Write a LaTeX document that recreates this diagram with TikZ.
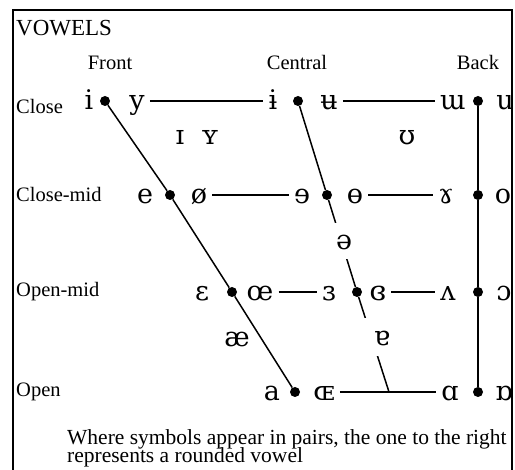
\documentclass[tikz,border=0pt]{standalone}
\usepackage{fontspec}
\setmainfont{Liberation Serif}
\newfontfamily\ipafont{DejaVu Serif}
\usetikzlibrary{positioning}

\begin{document}
\begin{tikzpicture}[
    x=1pt, y=-1pt,
    every node/.style={inner sep=0pt},
    ipa/.style={font=\ipafont\fontsize{27}{27}\selectfont, text height=19pt, text depth=1pt, inner xsep=5pt},
    gap/.style={ipa, fill=white, minimum height=36pt},
    dot/.style={circle, fill, minimum size=10pt},
    head/.style={font=\fontsize{20.5}{22}\selectfont, anchor=base},
    side/.style={font=\fontsize{20.5}{22}\selectfont, anchor=base west},
    note/.style={font=\fontsize{21.5}{15}\selectfont, align=left, anchor=base west},
    line/.style={line width=1.6pt},
    slant/.style={line width=1.5pt}
]

\useasboundingbox (0,0) rectangle (515,470);
\draw[line width=2pt] (13,470) -- (13,10) -- (512,10) -- (512,470);

% Headings
\node[side, font=\fontsize{23}{24}\selectfont] (title) at (16,36) {VOWELS};
\node[head] (front) at (110,70) {Front};
\node[head] (central) at (297,70) {Central};
\node[head] (back) at (478,70) {Back};
\node[side] (close) at (16,114) {Close};
\node[side] (closemid) at (16,202) {Close-mid};
\node[side] (openmid) at (16,297) {Open-mid};
\node[side] (open) at (16,397) {Open};

% Dots
\node[dot] (fC) at (105,101) {};
\node[dot] (fCM) at (170,195) {};
\node[dot] (fOM) at (232,292) {};
\node[dot] (fO) at (295,392) {};
\node[dot] (cC) at (298,101) {};
\node[dot] (cCM) at (327,195) {};
\node[dot] (cOM) at (357,292) {};
\coordinate (cO) at (389,392);
\node[dot] (bC) at (478,101) {};
\node[dot] (bCM) at (478,195) {};
\node[dot] (bOM) at (478,292) {};
\node[dot] (bO) at (478,392) {};

% Symbols
\node[ipa] (i) at (89,101) {i};
\node[ipa] (y) at (137,101) {y};
\node[ipa] (ibar) at (273,101) {ɨ};
\node[ipa] (ubar) at (329,101) {ʉ};
\node[ipa] (mturn) at (453,101) {ɯ};
\node[ipa] (u) at (505,101) {u};
\node[ipa] (e) at (145,195) {e};
\node[ipa] (oslash) at (199,195) {ø};
\node[ipa] (erev) at (302,195) {ɘ};
\node[ipa] (obar) at (355,195) {ɵ};
\node[ipa] (ram) at (446,195) {ɤ};
\node[ipa] (o) at (503,195) {o};
\node[ipa] (eps) at (202,292) {ɛ};
\node[ipa] (oe) at (260,292) {œ};
\node[ipa] (epsrev) at (329,292) {ɜ};
\node[ipa] (epsclosed) at (378,292) {ɞ};
\node[ipa] (vturn) at (448,292) {ʌ};
\node[ipa] (oopen) at (504,292) {ɔ};
\node[ipa] (a) at (272,392) {a};
\node[ipa] (OE) at (324,392) {ɶ};
\node[ipa] (alpha) at (450,392) {ɑ};
\node[ipa] (alphaturn) at (504,392) {ɒ};
\node[ipa] (Ismall) at (180,136) {ɪ};
\node[ipa] (Ysmall) at (210,136) {ʏ};
\node[ipa] (upsilon) at (407,136) {ʊ};
\node[ipa] (ae) at (237,338) {æ};

% Lines
\draw[slant] (fC) -- (fCM) -- (fOM) -- (fO);
\draw[slant] (cC) -- (cCM) -- (cOM) -- (cO);
\draw[line] (bC) -- (bCM) -- (bOM) -- (bO);
\draw[line] (y) -- (ibar);
\draw[line] (ubar) -- (mturn);
\draw[line] (oslash) -- (erev);
\draw[line] (obar) -- (ram);
\draw[line] (oe) -- (epsrev);
\draw[line] (epsclosed) -- (vturn);
\draw[line] (OE) -- (alpha);

% Symbols on the central line
\node[gap, minimum width=26pt] (schwa) at (344,241) {ə};
\node[gap, minimum width=38pt, minimum height=38pt] (aturn) at (382,337) {ɐ};

% Note
\node[note] (note) at (67,463) {Where symbols appear in pairs, the one to the right\\[-2pt]represents a rounded vowel};

\end{tikzpicture}
\end{document}
